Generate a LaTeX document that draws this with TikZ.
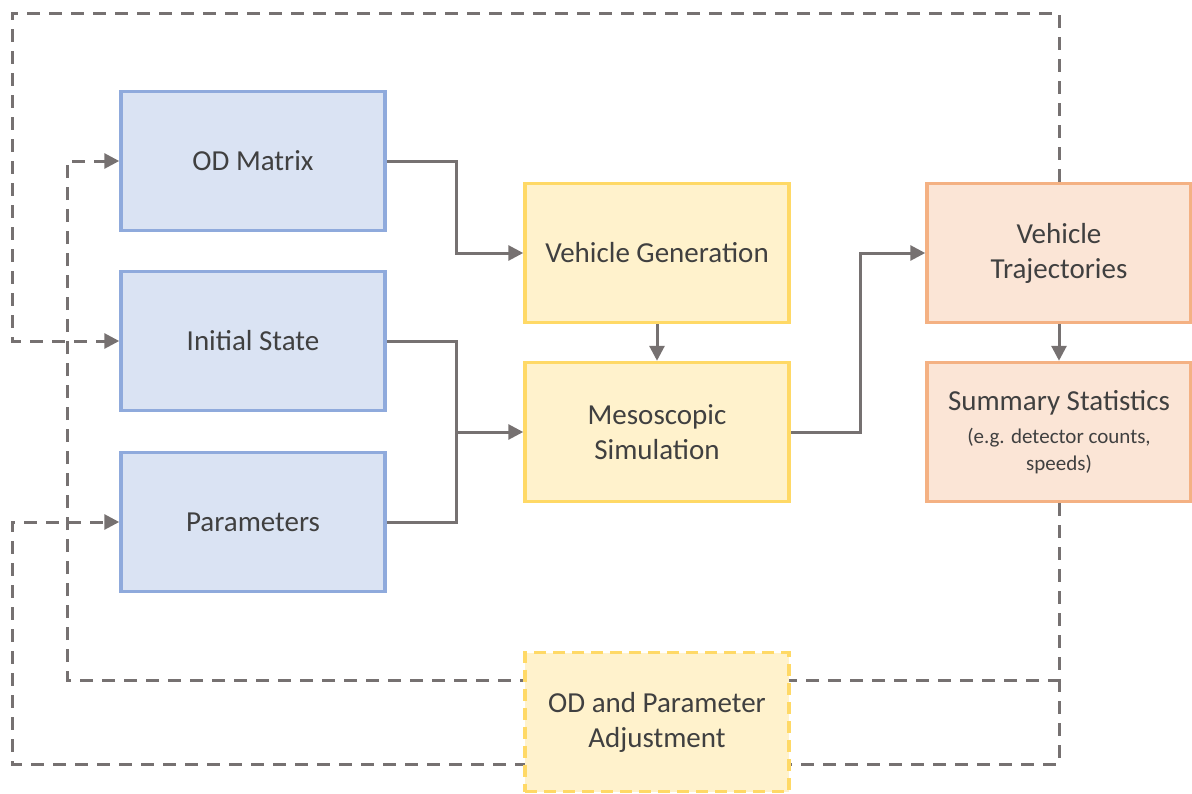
\documentclass[tikz,border=0pt]{standalone}
\usepackage{fontspec}
\setmainfont{Carlito}
\usetikzlibrary{arrows.meta}

\definecolor{bluefill}{HTML}{DAE3F3}
\definecolor{blueline}{HTML}{8FAADC}
\definecolor{yelfill}{HTML}{FFF2CC}
\definecolor{yelline}{HTML}{FFD966}
\definecolor{orfill}{HTML}{FBE5D6}
\definecolor{orline}{HTML}{F4B183}
\definecolor{wire}{HTML}{767171}
\definecolor{ink}{HTML}{404040}

\tikzset{
  box/.style={draw, line width=3.5pt, minimum width=264pt, minimum height=139pt,
    inner sep=0pt, align=center, text=ink, font=\fontsize{29}{35}\selectfont},
  inbox/.style={box, fill=bluefill, draw=blueline},
  simbox/.style={box, fill=yelfill, draw=yelline},
  outbox/.style={box, fill=orfill, draw=orline},
  adjbox/.style={simbox, dash pattern=on 12pt off 7pt},
  flow/.style={draw=wire, line width=3pt, -{Triangle[length=15pt,width=15pt]}},
  link/.style={draw=wire, line width=3pt},
  fb/.style={draw=wire, line width=3pt, dash pattern=on 13pt off 9pt},
  fbarrow/.style={fb, -{Triangle[length=15pt,width=15pt]}}
}

\newcommand{\smalltext}{\fontsize{21}{25}\selectfont}

\begin{document}
\begin{tikzpicture}[x=1pt, y=-1pt]
  \useasboundingbox (0,0) rectangle (1192,793);

  % inputs
  \node[inbox] (od)    at (253,161) {OD Matrix};
  \node[inbox] (init)  at (253,341) {Initial State};
  \node[inbox] (param) at (253,522) {Parameters};

  % simulation
  \node[simbox] (gen)  at (657,253) {Vehicle Generation};
  \node[simbox] (meso) at (657,432) {Mesoscopic\\Simulation};

  % outputs
  \node[outbox] (traj) at (1059,253) {Vehicle\\Trajectories};
  \node[outbox] (summ) at (1059,432)
    {Summary Statistics\\[-2pt]{\smalltext (e.g. detector counts,}\\[-8pt]{\smalltext speeds)}};

  % junction points
  \coordinate (j1) at (456,253);
  \coordinate (j2) at (456,432);
  \coordinate (j3) at (860,432);

  % forward flow
  \draw[flow] (od.east) -| (j1) -- (gen.west);
  \draw[flow] (init.east) -| (j2) -- (meso.west);
  \draw[link] (param.east) -| (j2);
  \draw[flow] (gen.south) -- (meso.north);
  \draw[flow] (meso.east) -- (j3) |- (traj.west);
  \draw[flow] (traj.south) -- (summ.north);

  % feedback loops
  \coordinate (topleft) at (12,13);
  \coordinate (botleft) at (12,764);
  \coordinate (midright) at (1061,680);
  \coordinate (midleft) at (67,680);

  \draw[fbarrow] (traj.north) |- (topleft) |- (init.west);
  \draw[fbarrow] (summ.south) |- (botleft) |- (param.west);
  \draw[fbarrow] (midright) -- (midleft) |- (od.west);

  % adjustment step
  \node[adjbox] (adj) at (657,722) {OD and Parameter\\Adjustment};
\end{tikzpicture}
\end{document}
